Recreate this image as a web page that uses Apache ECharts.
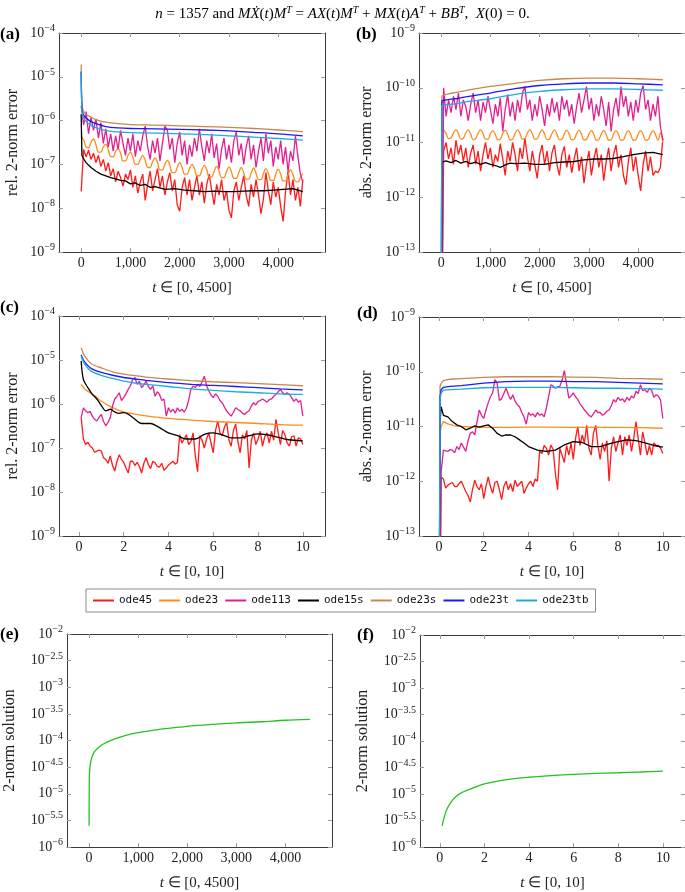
<!DOCTYPE html>
<html><head><meta charset="utf-8">
<script src="https://cdn.jsdelivr.net/npm/echarts@6/dist/echarts.min.js"></script>
<style>html,body{margin:0;padding:0;background:#fff}#c{width:685px;height:892px}</style>
</head><body><div id="c"></div><script>
// ---------- data ----------
const solverNames = ['ode45','ode23','ode113','ode15s','ode23s','ode23t','ode23tb'];
const xTicksLong = [0,1000,2000,3000,4000];
const xTicksShort = [0,2,4,6,8,10];
const yTicksSol = [1e-6,3.1623e-6,1e-5,3.1623e-5,1e-4,3.1623e-4,1e-3,3.1623e-3,1e-2];

const tA = [0,50,100,150,200,250,300,350,400,450,500,550,600,650,700,750,800,850,900,950,1000,1050,1100,1150,1200,1250,1300,1350,1400,1450,1500,1550,1600,1650,1700,1750,1800,1850,1900,1950,2000,2050,2100,2150,2200,2250,2300,2350,2400,2450,2500,2550,2600,2650,2700,2750,2800,2850,2900,2950,3000,3050,3100,3150,3200,3250,3300,3350,3400,3450,3500,3550,3600,3650,3700,3750,3800,3850,3900,3950,4000,4050,4100,4150,4200,4250,4300,4350,4400,4450,4500];
const tSmoothA = [0,15,40,100,200,300,500,750,1000,1500,2000,2500,3000,3500,4000,4500];
const tBlackA = [0,15,40,100,200,300,400,500,600,700,800,900,1000,1100,1200,1300,1400,1500,1700,1900,2100,2300,2500,2700,2900,3100,3300,3500,3700,3900,4100,4300,4500];

// (a) relative error, long interval
const a_ode45 = [2.4e-8,2.2e-7,1.5e-7,2.1e-7,1.3e-7,1.8e-7,1.1e-7,1.6e-7,9e-8,1.3e-7,
 7e-8,1.1e-7,5.5e-8,8e-8,4e-8,7e-8,5e-8,3.2e-8,6e-8,4.5e-8,
 7.5e-8,3e-8,5.5e-8,2.2e-8,4e-8,6e-8,1.5e-8,3.5e-8,7e-8,2.5e-8,
 4.5e-8,8e-8,3e-8,5.5e-8,2e-8,4e-8,6.5e-8,2.5e-8,4.5e-8,1.2e-8,
 8.5e-9,3e-8,5e-8,2e-8,4.5e-8,1.5e-8,3e-8,5.5e-8,2e-8,4e-8,
 1.3e-8,3.5e-8,6e-8,2.5e-8,1.2e-8,3.5e-8,2e-8,4.5e-8,1.5e-8,2.5e-8,
 9e-9,6e-9,2.5e-8,4e-8,1.5e-8,3e-8,5.5e-8,2e-8,1.1e-8,3.5e-8,
 1.8e-8,4.5e-8,2e-8,7.5e-9,1.6e-8,6.5e-8,2.5e-8,1.2e-8,4e-8,1.8e-8,
 3e-8,1.1e-8,5e-9,2.5e-8,7e-8,2e-8,4.5e-8,1.5e-8,3e-8,1.1e-8,
 4.5e-8];
const a_ode113 = [2.2e-6,8e-7,1.6e-6,5e-7,1.2e-6,6e-7,1.1e-6,4e-7,9e-7,3e-7,
 6.5e-7,2.5e-7,5e-7,2e-7,4.5e-7,2.2e-7,6e-7,3e-7,1.6e-7,4e-7,
 2e-7,5e-7,1.5e-7,3.5e-7,2e-7,4.5e-7,7.5e-7,2.5e-7,1.3e-7,3.5e-7,
 1.8e-7,4e-7,1.2e-7,3e-7,7.5e-7,6e-7,2.2e-7,4e-7,1.1e-7,3e-7,
 5.5e-7,1.6e-7,3.5e-7,1e-7,2.8e-7,1.5e-7,4e-7,2e-7,6.5e-7,2.5e-7,
 1.2e-7,3.5e-7,1.8e-7,5e-7,1.4e-7,3e-7,8e-8,2.2e-7,4e-7,1.3e-7,
 2.8e-7,1.1e-7,3.5e-7,5.5e-7,1.6e-7,3e-7,1e-7,2.5e-7,4.5e-7,1.3e-7,
 2.8e-7,8.5e-8,2e-7,4e-7,1.2e-7,5e-7,1.8e-7,3.5e-7,9e-8,2.5e-7,
 1.3e-7,3.5e-7,1e-7,2.5e-7,7e-8,2e-7,1.2e-7,4.5e-7,1.5e-7,6e-8,
 4e-8];
const a_ode23 = [4.5e-7,3.6e-7,2.5e-7,2.4e-7,3.2e-7,3.8e-7,2.8e-7,1.9e-7,1.9e-7,2.5e-7,
 2.9e-7,2.2e-7,1.5e-7,1.5e-7,2e-7,2.3e-7,1.8e-7,1.2e-7,1.2e-7,1.6e-7,
 1.9e-7,1.45e-7,1e-7,1e-7,1.3e-7,1.6e-7,1.25e-7,8.5e-8,8.5e-8,1.15e-7,
 1.4e-7,1.1e-7,7.5e-8,7.5e-8,1e-7,1.25e-7,9.5e-8,6.5e-8,6.5e-8,8.5e-8,
 1.1e-7,8.5e-8,6e-8,6e-8,8e-8,1e-7,8e-8,5.5e-8,5.5e-8,7.5e-8,
 9.5e-8,7.5e-8,5.2e-8,5.2e-8,7e-8,9e-8,7e-8,5e-8,5e-8,6.8e-8,
 8.8e-8,6.8e-8,4.8e-8,4.8e-8,6.5e-8,8.5e-8,6.5e-8,4.6e-8,4.6e-8,6.3e-8,
 8.3e-8,6.3e-8,4.5e-8,4.5e-8,6.2e-8,8e-8,6.2e-8,4.3e-8,4.3e-8,6e-8,
 7.8e-8,6e-8,4.2e-8,4.2e-8,5.8e-8,7.6e-8,5.8e-8,4.1e-8,4e-8,5e-8,
 6.2e-8];
const a_ode15s = [1.4e-6,1.6e-7,1.4e-7,1.1e-7,8.5e-8,7e-8,6e-8,5.5e-8,5e-8,4.7e-8,4.3e-8,4.2e-8,3.6e-8,3.8e-8,3.3e-8,3.5e-8,3.0e-8,3.1e-8,2.7e-8,2.8e-8,2.6e-8,2.5e-8,2.4e-8,2.45e-8,2.4e-8,2.4e-8,2.45e-8,2.5e-8,2.5e-8,2.6e-8,2.7e-8,2.8e-8,2.4e-8];
const a_ode23s = [1.9e-5,2.5e-6,1.7e-6,1.4e-6,1.2e-6,1.05e-6,9.2e-7,8.5e-7,8.1e-7,7.9e-7,7.6e-7,7.3e-7,7.0e-7,6.6e-7,6.1e-7,5.6e-7];
const a_ode23t = [1.3e-5,2.0e-6,1.4e-6,1.15e-6,9.5e-7,8.5e-7,7.3e-7,6.8e-7,6.6e-7,6.5e-7,6.3e-7,6.1e-7,5.8e-7,5.4e-7,5.0e-7,4.5e-7];
const a_ode23tb = [1.3e-5,1.8e-6,1.2e-6,9.5e-7,7.8e-7,6.9e-7,5.9e-7,5.5e-7,5.3e-7,5.2e-7,5.0e-7,4.8e-7,4.5e-7,4.2e-7,3.9e-7,3.6e-7];

// (b) absolute error, long interval
const b_ode45 = [1e-16,7e-12,1e-11,5e-12,8e-12,4e-12,1.1e-11,6e-12,9e-12,4.5e-12,
 8e-12,3.5e-12,6.5e-12,9e-12,4e-12,7e-12,3e-12,6e-12,1e-11,5e-12,
 8e-12,3.5e-12,6e-12,4.5e-12,9.5e-12,5e-12,2.5e-12,7e-12,4.5e-12,1e-11,
 6e-12,3e-12,8e-12,5e-12,1.2e-11,5.5e-12,3e-12,7e-12,4e-12,2.2e-12,
 6e-12,9e-12,4e-12,7e-12,3e-12,6.5e-12,9e-12,4e-12,2.5e-12,6e-12,
 8.5e-12,3.5e-12,6e-12,2.8e-12,5e-12,8e-12,3e-12,5.5e-12,1.8e-12,4e-12,
 7e-12,2.5e-12,5e-12,8e-12,3.5e-12,6e-12,2e-12,4.5e-12,8e-12,3e-12,
 6e-12,9e-12,3.5e-12,6e-12,2.5e-12,1.7e-12,4.5e-12,8e-12,3e-12,5.5e-12,
 2.5e-12,1.3e-12,4e-12,7e-12,3e-12,5.5e-12,2.5e-12,3e-12,2.8e-12,3.5e-12,
 1.2e-11];
const b_ode113 = [1e-16,1e-10,3e-11,6e-11,3.5e-11,7e-11,4e-11,8e-11,3e-11,6e-11,
 4.5e-11,2.5e-11,5e-11,8e-11,3.5e-11,6e-11,2.5e-11,5.5e-11,3.5e-11,7e-11,
 4e-11,2.2e-11,5e-11,3e-11,6.5e-11,1.6e-11,4e-11,7.5e-11,3e-11,5.5e-11,
 2.5e-11,6e-11,3.5e-11,8e-11,1.05e-10,4e-11,6e-11,2.5e-11,5e-11,3e-11,
 7e-11,4e-11,2e-11,5e-11,3e-11,6.5e-11,3.5e-11,5.5e-11,2.5e-11,7e-11,
 4e-11,6e-11,3e-11,5e-11,2.2e-11,4.5e-11,8e-11,3.5e-11,6e-11,1.05e-10,
 4e-11,6.5e-11,2.5e-11,5e-11,3e-11,7e-11,4e-11,2e-11,5.5e-11,1.6e-11,
 4e-11,6.5e-11,3e-11,1.05e-10,4.5e-11,7e-11,3e-11,5.5e-11,2.5e-11,6e-11,
 3.5e-11,8e-11,1.1e-10,4e-11,6e-11,2.5e-11,5e-11,3e-11,7e-11,2e-11,
 1.1e-11];
const b_ode23 = [1e-16,1.7e-11,1.45e-11,1.18e-11,1.22e-11,1.5e-11,1.72e-11,1.45e-11,1.15e-11,1.2e-11,
 1.5e-11,1.7e-11,1.42e-11,1.13e-11,1.18e-11,1.48e-11,1.7e-11,1.45e-11,1.15e-11,1.15e-11,
 1.45e-11,1.65e-11,1.4e-11,1.12e-11,1.15e-11,1.45e-11,1.68e-11,1.42e-11,1.12e-11,1.15e-11,
 1.45e-11,1.7e-11,1.45e-11,1.15e-11,1.18e-11,1.48e-11,1.72e-11,1.45e-11,1.15e-11,1.17e-11,
 1.47e-11,1.7e-11,1.43e-11,1.13e-11,1.16e-11,1.46e-11,1.7e-11,1.43e-11,1.13e-11,1.15e-11,
 1.45e-11,1.68e-11,1.42e-11,1.12e-11,1.15e-11,1.45e-11,1.68e-11,1.42e-11,1.12e-11,1.14e-11,
 1.44e-11,1.67e-11,1.4e-11,1.1e-11,1.13e-11,1.43e-11,1.66e-11,1.4e-11,1.1e-11,1.12e-11,
 1.42e-11,1.65e-11,1.4e-11,1.1e-11,1.12e-11,1.42e-11,1.65e-11,1.4e-11,1.1e-11,1.12e-11,
 1.42e-11,1.65e-11,1.4e-11,1.1e-11,1.12e-11,1.42e-11,1.65e-11,1.4e-11,1.1e-11,1.5e-11,
 1.0e-11];
const b_ode15s = [1e-16,4.4e-12,4.2e-12,4.6e-12,4.3e-12,4.7e-12,4.2e-12,4.5e-12,4.1e-12,4.4e-12,4.0e-12,4.3e-12,4.0e-12,3.8e-12,3.5e-12,3.9e-12,4.2e-12,4.1e-12,4.2e-12,4.0e-12,4.0e-12,4.3e-12,4.4e-12,4.5e-12,4.8e-12,5.0e-12,5.0e-12,5.1e-12,5.5e-12,6.0e-12,6.4e-12,6.6e-12,6.0e-12];
const b_ode23s = [1e-16,7.0e-11,7.3e-11,7.6e-11,7.9e-11,8.2e-11,8.9e-11,9.7e-11,1.06e-10,1.2e-10,1.36e-10,1.46e-10,1.5e-10,1.5e-10,1.46e-10,1.4e-10];
const b_ode23t = [1e-16,5.7e-11,5.9e-11,6.0e-11,6.2e-11,6.3e-11,6.8e-11,7.4e-11,8.0e-11,9.6e-11,1.1e-10,1.18e-10,1.22e-10,1.22e-10,1.18e-10,1.13e-10];
const b_ode23tb = [1e-16,4.6e-11,4.8e-11,4.9e-11,5.0e-11,5.1e-11,5.5e-11,5.9e-11,6.3e-11,7.6e-11,8.6e-11,9.2e-11,9.5e-11,9.5e-11,9.3e-11,9.0e-11];

// (c)/(d) short interval
const tC = [0.1,0.2,0.3,0.4,0.5,0.6,0.7,0.8,0.9,1.0,1.1,1.2,1.3,1.4,1.5,1.6,1.7,1.8,1.9,2.0,2.1,2.2,2.3,2.4,2.5,2.6,2.7,2.8,2.9,3.0,3.1,3.2,3.3,3.4,3.5,3.6,3.7,3.8,3.9,4.0,4.1,4.2,4.3,4.4,4.5,4.6,4.7,4.8,4.9,5.0,5.1,5.2,5.3,5.4,5.5,5.6,5.7,5.8,5.9,6.0,6.1,6.2,6.3,6.4,6.5,6.6,6.7,6.8,6.9,7.0,7.1,7.2,7.3,7.4,7.5,7.6,7.7,7.8,7.9,8.0,8.1,8.2,8.3,8.4,8.5,8.6,8.7,8.8,8.9,9.0,9.1,9.2,9.3,9.4,9.5,9.6,9.7,9.8,9.9,10.0];
const tD = [0,0.1,0.2,0.3,0.4,0.5,0.6,0.7,0.8,0.9,1.0,1.1,1.2,1.3,1.4,1.5,1.6,1.7,1.8,1.9,2.0,2.1,2.2,2.3,2.4,2.5,2.6,2.7,2.8,2.9,3.0,3.1,3.2,3.3,3.4,3.5,3.6,3.7,3.8,3.9,4.0,4.1,4.2,4.3,4.4,4.5,4.6,4.7,4.8,4.9,5.0,5.1,5.2,5.3,5.4,5.5,5.6,5.7,5.8,5.9,6.0,6.1,6.2,6.3,6.4,6.5,6.6,6.7,6.8,6.9,7.0,7.1,7.2,7.3,7.4,7.5,7.6,7.7,7.8,7.9,8.0,8.1,8.2,8.3,8.4,8.5,8.6,8.7,8.8,8.9,9.0,9.1,9.2,9.3,9.4,9.5,9.6,9.7,9.8,9.9,10.0];
const tSmoothC = [0.1,0.2,0.3,0.5,0.7,1,1.5,2,2.5,3,4,5,6,7,8,9,10];
const tBlackC = [0.1,0.2,0.4,0.6,0.8,1,1.2,1.4,1.6,1.8,2,2.2,2.5,2.8,3.2,3.6,4,4.4,4.8,5.2,5.6,6,6.4,6.8,7.2,7.6,8,8.4,8.8,9.2,9.6,10];
const tSmoothD = [0,0.05,0.1,0.2,0.5,1,2,3,4,5,6,7,8,9,10];
const tOrangeD = [0,0.05,0.1,0.2,0.4,0.7,1,2,3,4,5,6,7,8,9,10];
const tBlackD = [0,0.05,0.1,0.2,0.4,0.6,0.8,1,1.2,1.4,1.6,1.8,2,2.2,2.4,2.6,2.8,3,3.2,3.4,3.6,3.8,4,4.4,4.8,5.2,5.6,6,6.4,6.8,7.2,7.6,8,8.4,8.8,9.2,9.6,10];

const c_ode45 = [4.9e-7,1.6e-7,1.2e-7,1.35e-7,1.1e-7,1e-7,8e-8,8.5e-8,9e-8,8.5e-8,
 6e-8,5.5e-8,4.5e-8,6.6e-8,4e-8,3e-8,5e-8,7e-8,5.5e-8,4.7e-8,
 3.5e-8,2.7e-8,5e-8,5e-8,4e-8,4.7e-8,3.8e-8,2.7e-8,4.5e-8,6e-8,
 4.2e-8,3.4e-8,5e-8,4.6e-8,3.8e-8,3.7e-8,4.5e-8,3.1e-8,3.5e-8,4.1e-8,
 4.5e-8,5e-8,4.3e-8,4.7e-8,2e-7,1.3e-7,1.6e-7,2e-7,1.2e-7,1.4e-7,
 2.2e-7,6.5e-8,2.9e-8,1.9e-7,1.5e-7,1e-7,1.6e-7,2.2e-7,1.3e-7,7.8e-8,
 2.5e-7,4.1e-7,2.2e-7,1.9e-7,3e-7,3.8e-7,1.5e-7,1.1e-7,2.5e-7,3.5e-7,
 1.4e-7,7.8e-8,2e-7,1.6e-7,2.5e-7,3.5e-8,1.5e-7,2.2e-7,1.2e-7,1.6e-7,
 2.4e-7,1.1e-7,1.8e-7,2.2e-7,1.3e-7,2.4e-7,1.5e-7,4.5e-7,2.2e-7,1.2e-7,
 2.5e-7,2e-7,1.3e-7,1.1e-7,1.8e-7,1.9e-7,1.1e-7,1.7e-7,1.6e-7,1.2e-7];
const c_ode113 = [4.9e-7,8.2e-7,7e-7,6.3e-7,6.8e-7,5.3e-7,4.5e-7,4.1e-7,5e-7,5.8e-7,
 4e-7,3.2e-7,3.8e-7,4.9e-7,9e-7,1.3e-6,1.5e-6,1.8e-6,1.2e-6,1.4e-6,
 1.7e-6,2.15e-6,2.6e-6,3.6e-6,4e-6,2.8e-6,3.3e-6,2.35e-6,2.7e-6,3.3e-6,
 2.5e-6,2.15e-6,2.6e-6,1.5e-6,1.9e-6,1.65e-6,1.2e-6,1.3e-6,5.3e-7,8.2e-7,
 6.5e-7,7.6e-7,6.2e-7,8.2e-7,6.8e-7,7.6e-7,6.5e-7,8e-7,1.2e-6,2.2e-6,
 2.5e-6,2.4e-6,2.8e-6,2.5e-6,3.2e-6,4.3e-6,2.6e-6,2e-6,1.6e-6,1.4e-6,
 1.7e-6,1.5e-6,1.2e-6,1.07e-6,8.5e-7,7e-7,6e-7,5.3e-7,6.5e-7,8.2e-7,
 7.5e-7,7e-7,6.2e-7,5.8e-7,6.5e-7,7e-7,9e-7,1.07e-6,9.5e-7,1.15e-6,
 1.2e-6,1.3e-6,1.2e-6,1.1e-6,1.25e-6,1.3e-6,1.5e-6,1.65e-6,1.9e-6,2.15e-6,
 1.8e-6,1.65e-6,1.8e-6,1.65e-6,1.4e-6,1.15e-6,1.3e-6,1.1e-6,1.2e-6,5.3e-7];
const c_ode23 = [2.8e-6,2.4e-6,2.1e-6,1.8e-6,1.55e-6,1.15e-6,8.3e-7,6.6e-7,5.9e-7,5.4e-7,4.7e-7,4.3e-7,4.0e-7,3.8e-7,3.6e-7,3.4e-7,3.3e-7];
const c_ode15s = [9.5e-6,3.6e-6,2.35e-6,1.65e-6,1.3e-6,9.3e-7,7e-7,7.6e-7,6.6e-7,6.1e-7,6.4e-7,5.9e-7,4.5e-7,3.6e-7,3.6e-7,2.9e-7,2.2e-7,1.9e-7,1.6e-7,1.6e-7,2.05e-7,2.2e-7,2.0e-7,1.7e-7,1.7e-7,1.9e-7,2.1e-7,2.0e-7,1.8e-7,1.6e-7,1.5e-7,1.45e-7];
const c_ode23s = [1.9e-5,1.4e-5,1.15e-5,8.6e-6,7.5e-6,6.6e-6,5.4e-6,4.8e-6,4.4e-6,4.1e-6,3.7e-6,3.4e-6,3.2e-6,3.05e-6,2.9e-6,2.75e-6,2.6e-6];
const c_ode23t = [1.3e-5,1.0e-5,8.5e-6,6.7e-6,5.9e-6,5.2e-6,4.5e-6,4.0e-6,3.7e-6,3.45e-6,3.05e-6,2.8e-6,2.65e-6,2.5e-6,2.35e-6,2.2e-6,2.1e-6];
const c_ode23tb = [1.2e-5,9e-6,7.5e-6,5.8e-6,5.1e-6,4.5e-6,3.8e-6,3.3e-6,3.0e-6,2.8e-6,2.5e-6,2.2e-6,2.05e-6,1.9e-6,1.8e-6,1.7e-6,1.65e-6];

const d_ode45 = [1e-16,
 1.2e-12,1.1e-12,7.5e-13,8.5e-13,9e-13,9.5e-13,8e-13,8e-13,9e-13,1e-12,
 8e-13,6.5e-13,5.5e-13,4.2e-13,7e-13,1.05e-12,8e-13,7e-13,9e-13,4.8e-13,
 8e-13,1.2e-12,8e-13,6e-13,9.5e-13,1e-12,7e-13,4.6e-13,8e-13,1e-12,
 7e-13,9e-13,6.5e-13,1.05e-12,8e-13,9e-13,1e-12,6e-13,7.5e-13,9e-13,
 1e-12,8e-13,1.1e-12,1e-12,3.7e-12,3.2e-12,4.5e-12,4e-12,3e-12,4.6e-12,
 3.8e-12,1.4e-12,7e-13,4e-12,3e-12,2.2e-12,4.5e-12,3e-12,5e-12,2.5e-12,
 6e-12,1e-11,4.5e-12,7e-12,5e-12,1.05e-11,4e-12,3e-12,7.5e-12,1.05e-11,
 4.5e-12,2.5e-12,5e-12,3.5e-12,5.5e-12,1e-12,4e-12,6.5e-12,3.5e-12,5e-12,
 7e-12,3e-12,6.5e-12,4.5e-12,7e-12,3.5e-12,6e-12,1.23e-11,6e-12,3e-12,
 8e-12,5e-12,3e-12,4.5e-12,3e-12,5e-12,4.5e-12,4.5e-12,4e-12,3.2e-12];
const d_ode113 = [1e-16,
 1.5e-12,3.7e-12,3.6e-12,3.5e-12,3.8e-12,3.7e-12,3.3e-12,4.3e-12,3.8e-12,5e-12,
 4.2e-12,3.5e-12,5.5e-12,7.5e-12,8e-12,7e-12,1.2e-11,2e-11,1.6e-11,1.4e-11,
 2e-11,2.7e-11,3.5e-11,4.1e-11,7.2e-11,6.2e-11,3e-11,3.2e-11,4e-11,5e-11,
 3.8e-11,3.1e-11,3.8e-11,2.9e-11,2.5e-11,2.3e-11,1.8e-11,1.5e-11,1.1e-11,1.8e-11,
 1.6e-11,1.7e-11,1.5e-11,1.8e-11,1.6e-11,1.7e-11,1.5e-11,2.2e-11,3.5e-11,5.8e-11,
 5.5e-11,5e-11,5.3e-11,5.4e-11,7e-11,1.05e-10,6e-11,3.3e-11,3.6e-11,4.1e-11,
 3.5e-11,3.1e-11,2.6e-11,2.3e-11,2e-11,1.8e-11,1.6e-11,1.5e-11,1.7e-11,2e-11,
 1.8e-11,1.8e-11,1.6e-11,1.7e-11,1.9e-11,2e-11,2.4e-11,3.1e-11,2.8e-11,3.4e-11,
 3e-11,3.2e-11,2.8e-11,3.4e-11,3e-11,3.6e-11,3.3e-11,4.4e-11,4e-11,5.8e-11,
 4.5e-11,4.7e-11,4.2e-11,5e-11,4.6e-11,3.4e-11,3.8e-11,3.6e-11,3e-11,1.4e-11];
const d_ode23 = [1e-16,7.5e-12,1e-11,1.23e-11,1.12e-11,1.03e-11,1e-11,9.6e-12,9.6e-12,9.7e-12,9.7e-12,9.6e-12,9.6e-12,9.6e-12,9.5e-12,9.3e-12];
const d_ode15s = [1e-16,1.2e-11,2.3e-11,1.6e-11,1.5e-11,1.23e-11,1.07e-11,1e-11,8.7e-12,9.3e-12,1.03e-11,9.7e-12,1.03e-11,1.07e-11,9.3e-12,7.5e-12,6.7e-12,7e-12,7e-12,6.5e-12,5.7e-12,5e-12,4.3e-12,3.7e-12,3.5e-12,3.7e-12,4.6e-12,5.3e-12,5.1e-12,4.3e-12,4.3e-12,4.8e-12,5.3e-12,5.7e-12,5.5e-12,5e-12,4.5e-12,4.2e-12];
const d_ode23s = [1e-16,5.4e-11,6.2e-11,6.9e-11,7.3e-11,7.5e-11,7.9e-11,8.1e-11,8.1e-11,8.1e-11,8e-11,7.9e-11,7.6e-11,7.5e-11,7.3e-11];
const d_ode23t = [1e-16,3.5e-11,4.7e-11,5.2e-11,5.4e-11,5.6e-11,6.2e-11,6.6e-11,6.75e-11,6.75e-11,6.6e-11,6.6e-11,6.4e-11,6.2e-11,6.0e-11];
const d_ode23tb = [1e-16,3.1e-11,4.1e-11,4.6e-11,4.7e-11,4.8e-11,5.1e-11,5.2e-11,5.2e-11,5.2e-11,5.1e-11,5.0e-11,5.0e-11,4.9e-11,4.8e-11];

// (e)/(f) 2-norm of the solution
const tE = [0,2,5,10,25,50,100,200,300,500,750,1000,1500,2000,2500,3000,3500,4000,4500];
const e_sol = [2.5e-6,1.0e-5,1.8e-5,2.6e-5,3.6e-5,4.6e-5,6.0e-5,7.5e-5,8.7e-5,1.05e-4,1.25e-4,1.4e-4,1.65e-4,1.85e-4,2.0e-4,2.15e-4,2.25e-4,2.4e-4,2.5e-4];
const tF = [0.1,0.2,0.3,0.5,0.7,1,1.5,2,3,4,5,6,7,8,9,10];
const f_sol = [2.5e-6,3.7e-6,5e-6,7e-6,8.8e-6,1.07e-5,1.3e-5,1.55e-5,1.87e-5,2.07e-5,2.22e-5,2.35e-5,2.45e-5,2.52e-5,2.6e-5,2.7e-5];

// ---------- styling / layout ----------
const SERIF = 'Liberation Serif';
const MONO = 'DejaVu Sans Mono';
const COLORS = {ode45:'#ff1a1a', ode23:'#ff8c1a', ode113:'#e0218f', ode15s:'#000000', ode23s:'#c8874e', ode23t:'#1a1aff', ode23tb:'#1fa9e6', sol:'#22c322'};

const panels = [
  {grid:{left:59, top:33, width:266, height:219}, x:[-450,4950], xt:xTicksLong, xn:'[0, 4500]', y:[1e-9,1e-4], yn:'rel. 2-norm error', yGap:38, lab:'(a)', lx:0, ly:26},
  {grid:{left:419, top:33, width:266, height:219}, x:[-450,4950], xt:xTicksLong, xn:'[0, 4500]', y:[1e-13,1e-9], yn:'abs. 2-norm error', yGap:44, lab:'(b)', lx:356, ly:26},
  {grid:{left:59, top:316, width:266, height:220}, x:[-0.89,10.99], xt:xTicksShort, xn:'[0, 10]', y:[1e-9,1e-4], yn:'rel. 2-norm error', yGap:38, lab:'(c)', lx:0, ly:299},
  {grid:{left:419, top:317, width:266, height:219}, x:[-0.89,10.99], xt:xTicksShort, xn:'[0, 10]', y:[1e-13,1e-9], yn:'abs. 2-norm error', yGap:44, lab:'(d)', lx:357, ly:305},
  {grid:{left:67, top:634, width:265, height:219}, x:[-450,4950], xt:xTicksLong, xn:'[0, 4500]', y:[1e-6,1e-2], yt:yTicksSol, yn:'2-norm solution', yGap:49, lab:'(e)', lx:0, ly:626},
  {grid:{left:420, top:635, width:266, height:219}, x:[-0.89,10.99], xt:xTicksShort, xn:'[0, 10]', y:[1e-6,1e-2], yt:yTicksSol, yn:'2-norm solution', yGap:49, lab:'(f)', lx:357, ly:627}
];

function commas(v){ return String(v).replace(/\B(?=(\d{3})+(?!\d))/g, ','); }
function expLabel(v){ const e = Math.round(Math.log10(v)*2)/2; return '{b|10}{s|\u2212' + Math.abs(e) + '}'; }
const labRich = {
  b:{fontFamily:SERIF, fontSize:14, color:'#222'},
  s:{fontFamily:SERIF, fontSize:10, color:'#222', padding:[0,0,9,0]}
};
const frame = {show:true, onZero:false, lineStyle:{color:'#3a3a3a', width:1}};
const tickStyle = {color:'#9a9a9a', width:1};

const grid = [], xAxis = [], yAxis = [], graphic = [];
panels.forEach((p, g) => {
  grid.push(Object.assign({containLabel:false}, p.grid));
  const xBase = {gridIndex:g, type:'value', min:p.x[0], max:p.x[1], splitLine:{show:false}, axisLine:frame};
  xAxis.push(Object.assign({}, xBase, {
    position:'bottom',
    axisTick:{show:true, inside:true, length:4, lineStyle:tickStyle, customValues:p.xt},
    axisLabel:{show:true, customValues:p.xt, formatter:commas, margin:4, fontFamily:SERIF, fontSize:14, color:'#222'},
    name:'{i|t} \u2208 ' + p.xn, nameLocation:'middle', nameGap:29,
    nameTextStyle:{fontFamily:SERIF, fontSize:15, color:'#222', rich:{i:{fontFamily:SERIF, fontStyle:'italic', fontSize:15, color:'#222'}}}
  }));
  xAxis.push(Object.assign({}, xBase, {
    position:'top',
    axisTick:{show:true, inside:true, length:4, lineStyle:tickStyle, customValues:p.xt},
    axisLabel:{show:false}
  }));
  const yBase = {gridIndex:g, type:'log', logBase:10, min:p.y[0], max:p.y[1], splitLine:{show:false}, axisLine:frame};
  const tickY = {show:true, inside:true, length:4, lineStyle:tickStyle};
  const labY = {show:true, formatter:expLabel, margin:4, rich:labRich};
  if (p.yt) { tickY.customValues = p.yt; labY.customValues = p.yt; }
  yAxis.push(Object.assign({}, yBase, {
    position:'left', axisTick:tickY, axisLabel:labY,
    name:p.yn, nameLocation:'middle', nameGap:p.yGap,
    nameTextStyle:{fontFamily:SERIF, fontSize:16, color:'#222'}
  }));
  yAxis.push(Object.assign({}, yBase, {
    position:'right', axisTick:Object.assign({}, tickY), axisLabel:{show:false}
  }));
  graphic.push({type:'text', left:p.lx, top:p.ly, style:{text:p.lab, font:'bold 17px "' + SERIF + '"', fill:'#000'}});
});

function S(name, g, ts, vs, extra){
  return Object.assign({
    type:'line', name:name, xAxisIndex:2*g, yAxisIndex:2*g,
    data: ts.map((t,i) => [t, vs[i]]),
    symbol:'none', showSymbol:false, clip:true, animation:false,
    lineStyle:{width:1.3, color:COLORS[name]}, itemStyle:{color:COLORS[name]}
  }, extra || {});
}

const series = [
  S('ode45',0,tA,a_ode45), S('ode23',0,tA,a_ode23,{smooth:0.4}), S('ode113',0,tA,a_ode113),
  S('ode15s',0,tBlackA,a_ode15s), S('ode23s',0,tSmoothA,a_ode23s,{smooth:0.3}),
  S('ode23t',0,tSmoothA,a_ode23t,{smooth:0.3}), S('ode23tb',0,tSmoothA,a_ode23tb,{smooth:0.3}),
  S('ode45',1,tA,b_ode45), S('ode23',1,tA,b_ode23,{smooth:0.4}), S('ode113',1,tA,b_ode113),
  S('ode15s',1,tBlackA,b_ode15s), S('ode23s',1,tSmoothA,b_ode23s,{smooth:0.3}),
  S('ode23t',1,tSmoothA,b_ode23t,{smooth:0.3}), S('ode23tb',1,tSmoothA,b_ode23tb,{smooth:0.3}),
  S('ode45',2,tC,c_ode45), S('ode23',2,tSmoothC,c_ode23,{smooth:0.3}), S('ode113',2,tC,c_ode113),
  S('ode15s',2,tBlackC,c_ode15s,{smooth:0.3}), S('ode23s',2,tSmoothC,c_ode23s,{smooth:0.3}),
  S('ode23t',2,tSmoothC,c_ode23t,{smooth:0.3}), S('ode23tb',2,tSmoothC,c_ode23tb,{smooth:0.3}),
  S('ode45',3,tD,d_ode45), S('ode23',3,tOrangeD,d_ode23), S('ode113',3,tD,d_ode113),
  S('ode15s',3,tBlackD,d_ode15s), S('ode23s',3,tSmoothD,d_ode23s),
  S('ode23t',3,tSmoothD,d_ode23t), S('ode23tb',3,tSmoothD,d_ode23tb),
  S('sol',4,tE,e_sol,{smooth:0.3}), S('sol',5,tF,f_sol,{smooth:0.3})
];

const titleRich = {
  i:{fontFamily:SERIF, fontStyle:'italic', fontSize:15, color:'#000'},
  s:{fontFamily:SERIF, fontStyle:'italic', fontSize:10, color:'#000', padding:[0,0,8,0]}
};

const chart = echarts.init(document.getElementById('c'), null, {renderer:'canvas'});
chart.setOption({
  animation:false,
  backgroundColor:'#fff',
  title:{
    text:'{i|n} = 1357 and {i|M\u1E8A}({i|t}){i|M}{s|T} = {i|AX}({i|t}){i|M}{s|T} + {i|MX}({i|t}){i|A}{s|T} + {i|BB}{s|T},  {i|X}(0) = 0.',
    left:'center', top:0,
    textStyle:{fontFamily:SERIF, fontSize:15, fontWeight:'normal', color:'#000', rich:titleRich}
  },
  legend:{
    data:solverNames.map(n => ({name:n, icon:'rect'})), left:86, top:589, orient:'horizontal',
    borderColor:'#8a8a8a', borderWidth:1, padding:[6,7], itemGap:7, itemWidth:21, itemHeight:2,
    textStyle:{fontFamily:MONO, fontSize:11, color:'#111'},
    selectedMode:false
  },
  grid, xAxis, yAxis, series, graphic
});
</script></body></html>
